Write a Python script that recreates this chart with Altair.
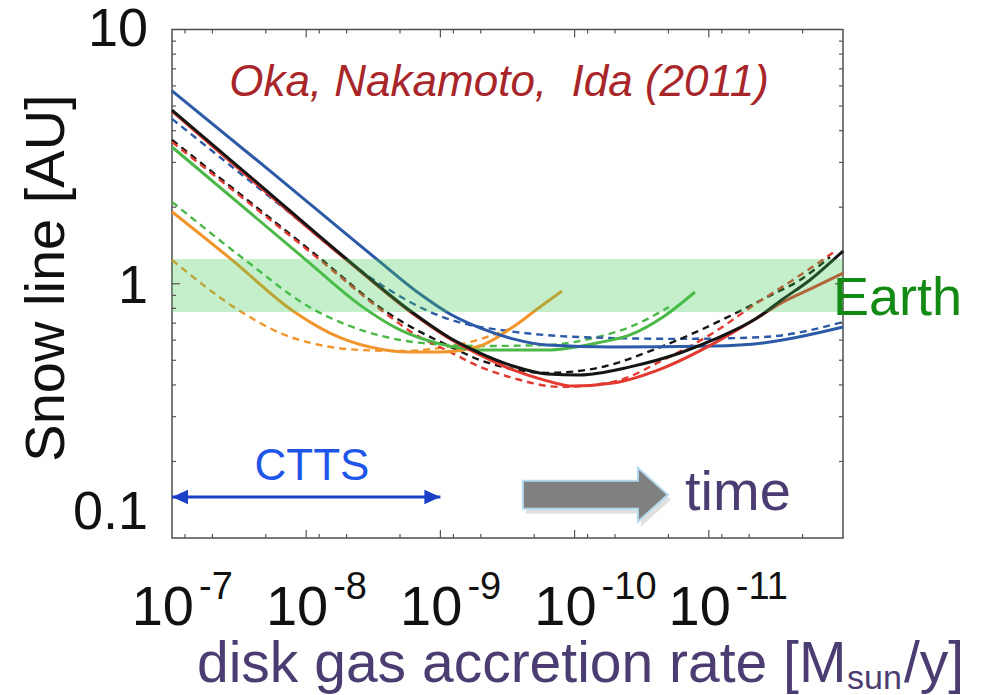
import altair as alt
import pandas as pd

# ---------------------------------------------------------------------------
# Snow-line radius [AU] versus disk gas accretion rate [Msun/yr]
# x values are log10(accretion rate); y values are snow-line radius in AU
# ---------------------------------------------------------------------------
blue_solid_logm = [-7.0, -7.73, -8.525, -8.848, -9.072, -9.295, -9.541, -9.794, -10.286, -11.031, -11.404, -12.0]
blue_solid_r = [5.74, 2.78, 1.25, 0.911, 0.76, 0.67, 0.607, 0.574, 0.564, 0.569, 0.585, 0.676]

blue_dash_logm = [-7.0, -7.805, -8.55, -8.773, -8.997, -9.221, -9.444, -10.04, -10.785, -11.404, -12.0]
blue_dash_r = [4.45, 2.04, 0.998, 0.848, 0.747, 0.688, 0.658, 0.617, 0.607, 0.617, 0.707]

black_solid_logm = [-7.0, -7.656, -8.302, -8.788, -9.072, -9.295, -9.541, -9.794, -10.04, -10.413,
                    -10.785, -11.031, -11.359, -11.553, -11.754, -12.0]
black_solid_r = [4.82, 2.445, 1.25, 0.774, 0.612, 0.534, 0.475, 0.442, 0.438, 0.471,
                 0.534, 0.601, 0.733, 0.871, 1.035, 1.345]

black_dash_logm = [-7.0, -8.103, -8.588, -9.094, -9.295, -9.541, -9.794, -10.167, -10.659, -11.158,
                   -11.434, -11.68, -11.903]
black_dash_r = [3.68, 1.26, 0.781, 0.559, 0.501, 0.462, 0.446, 0.466, 0.569, 0.747,
                0.887, 1.035, 1.274]

red_solid_logm = [-7.0, -8.302, -8.788, -9.072, -9.295, -9.541, -9.794, -9.988, -10.286, -10.659,
                  -11.031, -11.359, -11.553, -11.754, -12.0]
red_solid_r = [4.78, 1.24, 0.767, 0.607, 0.525, 0.458, 0.415, 0.396, 0.407, 0.466,
               0.58, 0.733, 0.848, 0.953, 1.10]

red_dash_logm = [-7.0, -8.103, -8.588, -8.796, -9.072, -9.295, -9.541, -9.891, -10.286, -10.659,
                 -11.031, -11.359, -11.657, -11.925]
red_dash_r = [3.61, 1.24, 0.767, 0.64, 0.539, 0.471, 0.426, 0.393, 0.411, 0.501,
              0.64, 0.84, 1.06, 1.324]

green_solid_logm = [-7.0, -7.991, -8.401, -8.699, -8.997, -9.295, -9.794, -10.167, -10.413, -10.659, -10.897]
green_solid_r = [3.45, 1.25, 0.824, 0.658, 0.58, 0.549, 0.549, 0.585, 0.629, 0.74, 0.928]

green_dash_logm = [-7.0, -7.537, -8.036, -8.327, -8.699, -9.072, -9.295, -9.794, -10.167, -10.413, -10.703]
green_dash_r = [2.10, 1.25, 0.803, 0.681, 0.601, 0.574, 0.569, 0.574, 0.617, 0.676, 0.81]

orange_solid_logm = [-7.0, -7.44, -7.902, -8.177, -8.475, -8.773, -8.997, -9.295, -9.541, -9.742, -9.906]
orange_solid_r = [1.92, 1.25, 0.781, 0.64, 0.564, 0.539, 0.539, 0.569, 0.676, 0.81, 0.936]

orange_dash_logm = [-7.0, -7.507, -7.805, -8.103, -8.401, -8.699, -8.997, -9.221, -9.37, -9.556]
orange_dash_r = [1.24, 0.781, 0.64, 0.574, 0.549, 0.544, 0.559, 0.59, 0.623, 0.676]

# Habitable ("Earth") zone band [AU]
earth_band = [0.774, 1.25]

# CTTS accretion-rate range [Msun/yr] and the radius where its arrow sits
ctts_range = [1e-7, 1e-9]
ctts_r = 0.145

# "time" arrow anchor (accretion rate, radius)
time_arrow_at = [7e-11, 0.148]

# axis ticks
x_major = [1e-8, 1e-9, 1e-10, 1e-11]
x_minor = [m * 10.0 ** (-d) for d in range(8, 13) for m in (8, 5, 2)]
y_major = [1.0]
y_minor = [m * 10.0 ** (-d) for d in (1, 0) for m in range(2, 10)]
x_tick_exponents = ["-7", "-8", "-9", "-10", "-11"]
x_tick_values = [1e-7, 1e-8, 1e-9, 1e-10, 1e-11]
y_tick_labels = ["10", "1", "0.1"]

W, H = 671, 508.5
FONT = "Liberation Sans"
INK = "#4b3c72"

xs = alt.Scale(type="log", domain=[1e-12, 1e-7], reverse=True, nice=False)
ys = alt.Scale(type="log", domain=[0.1, 10], nice=False)

curves = [
    ("orange", "dash", orange_dash_logm, orange_dash_r, "#f0962c"),
    ("green", "dash", green_dash_logm, green_dash_r, "#4cb848"),
    ("blue", "dash", blue_dash_logm, blue_dash_r, "#2c5aa6"),
    ("black", "dash", black_dash_logm, black_dash_r, "#151515"),
    ("red", "dash", red_dash_logm, red_dash_r, "#e23a30"),
    ("orange", "solid", orange_solid_logm, orange_solid_r, "#f0962c"),
    ("green", "solid", green_solid_logm, green_solid_r, "#4cb848"),
    ("blue", "solid", blue_solid_logm, blue_solid_r, "#2c5aa6"),
    ("red", "solid", red_solid_logm, red_solid_r, "#e23a30"),
    ("black", "solid", black_solid_logm, black_solid_r, "#151515"),
]

layers = []
for name, style, lm, rr, col in curves:
    df = pd.DataFrame({"mdot": [10.0 ** v for v in lm], "r": rr, "i": range(len(lm))})
    kw = dict(color=col, strokeWidth=3 if style == "solid" else 2.4, interpolate="monotone")
    if style == "dash":
        kw["strokeDash"] = [7, 5]
    layers.append(
        alt.Chart(df).mark_line(**kw).encode(
            x=alt.X("mdot:Q", scale=xs, axis=None),
            y=alt.Y("r:Q", scale=ys, axis=None),
            order="i:Q",
        )
    )

# translucent Earth band drawn over the curves
band = alt.Chart(pd.DataFrame({"lo": [earth_band[0]], "hi": [earth_band[1]]})).mark_rect(
    color="#3ec94f", opacity=0.3
).encode(x=alt.value(0), x2=alt.value(W), y=alt.Y("hi:Q", scale=ys, axis=None), y2="lo:Q")
layers.append(band)


def tick_layer(values, axis, length):
    df = pd.DataFrame({"v": values})
    out = []
    if axis == "x":
        for y0, y1 in ((H, H - length), (0, length)):
            out.append(alt.Chart(df).mark_rule(color="#555", strokeWidth=1.2).encode(
                x=alt.X("v:Q", scale=xs, axis=None), y=alt.value(y0), y2=alt.value(y1)))
    else:
        for x0, x1 in ((0, length), (W, W - length)):
            out.append(alt.Chart(df).mark_rule(color="#555", strokeWidth=1.2).encode(
                y=alt.Y("v:Q", scale=ys, axis=None), x=alt.value(x0), x2=alt.value(x1)))
    return out


layers += tick_layer(x_major, "x", 8)
layers += tick_layer(x_minor, "x", 4)
layers += tick_layer(y_major, "y", 8)
layers += tick_layer(y_minor, "y", 4)

# x tick labels: "10" with a raised exponent
xl = pd.DataFrame({"v": x_tick_values, "e": x_tick_exponents, "b": ["10"] * 5})
layers.append(alt.Chart(xl).mark_text(font=FONT, fontSize=56, align="right", baseline="alphabetic",
                                      dx=22, color="#111").encode(
    x=alt.X("v:Q", scale=xs, axis=None), y=alt.value(H + 87), text="b:N"))
layers.append(alt.Chart(xl).mark_text(font=FONT, fontSize=38, align="left", baseline="alphabetic",
                                      dx=27, color="#111").encode(
    x=alt.X("v:Q", scale=xs, axis=None), y=alt.value(H + 61), text="e:N"))

# y tick labels
for lab, val, dy in zip(y_tick_labels, [10, 1, 0.1], [0, 3, -25]):
    layers.append(alt.Chart(pd.DataFrame({"v": [val], "t": [lab]})).mark_text(
        font=FONT, fontSize=54, align="right", baseline="middle", dx=-24, dy=dy, color="#111").encode(
        y=alt.Y("v:Q", scale=ys, axis=None), x=alt.value(0), text="t:N"))

# CTTS double arrow
ca = pd.DataFrame({"x": [ctts_range[0]], "x2": [ctts_range[1]], "r": [ctts_r]})
layers.append(alt.Chart(ca).mark_rule(color="#1a40c8", strokeWidth=3).encode(
    x=alt.X("x:Q", scale=xs, axis=None), x2="x2:Q", y=alt.Y("r:Q", scale=ys, axis=None)))
heads = pd.DataFrame({"x": ctts_range, "r": [ctts_r, ctts_r], "s": ["L", "R"]})
layers.append(alt.Chart(heads[heads.s == "L"]).mark_point(
    shape="M0,0L2,-0.9L2,0.9Z", size=256, filled=True, color="#1a40c8", opacity=1).encode(
    x=alt.X("x:Q", scale=xs, axis=None), y=alt.Y("r:Q", scale=ys, axis=None)))
layers.append(alt.Chart(heads[heads.s == "R"]).mark_point(
    shape="M0,0L-2,-0.9L-2,0.9Z", size=256, filled=True, color="#1a40c8", opacity=1).encode(
    x=alt.X("x:Q", scale=xs, axis=None), y=alt.Y("r:Q", scale=ys, axis=None)))

# "time" block arrow with a soft shadow
arrow_path = "M-1,-0.193L0.586,-0.193L0.586,-0.372L1,0L0.586,0.372L0.586,0.193L-1,0.193Z"
ta = pd.DataFrame({"x": [time_arrow_at[0]], "r": [time_arrow_at[1]]})
layers.append(alt.Chart(ta).mark_point(shape=arrow_path, size=21025, filled=True, color="#000",
                                       opacity=0.12, strokeWidth=0, yOffset=5, xOffset=3).encode(
    x=alt.X("x:Q", scale=xs, axis=None), y=alt.Y("r:Q", scale=ys, axis=None)))
layers.append(alt.Chart(ta).mark_point(shape=arrow_path, size=21025, filled=True, fill="#808080",
                                       stroke="#b3dcef", strokeWidth=2, opacity=1).encode(
    x=alt.X("x:Q", scale=xs, axis=None), y=alt.Y("r:Q", scale=ys, axis=None)))


def label(text, x, y, **kw):
    return alt.Chart(pd.DataFrame({"t": [text]})).mark_text(**kw).encode(
        x=alt.value(x), y=alt.value(y), text="t:N")


layers.append(label("Oka, Nakamoto,\u00a0 Ida (2011)", 327, 66.5, font=FONT, fontSize=44, fontStyle="italic",
                    color="#a8262a", align="center", baseline="alphabetic"))
layers.append(label("Earth", 661, 285.5, font=FONT, fontSize=54, color="#138a13",
                    align="left", baseline="alphabetic"))
layers.append(label("CTTS", 140, 450.5, font=FONT, fontSize=44, color="#1f56ea",
                    align="center", baseline="alphabetic"))
layers.append(label("time", 513, 480.5, font=FONT, fontSize=56, color=INK,
                    align="left", baseline="alphabetic"))
layers.append(label("Snow line [AU]", -125, 248.5, font=FONT, fontSize=56, color="#111", angle=270,
                    align="center", baseline="middle"))

# x-axis title with subscript
layers.append(label("disk gas accretion rate [M", 25, 652.5, font=FONT, fontSize=57, color=INK,
                    align="left", baseline="alphabetic"))
layers.append(label("sun", 675, 659, font=FONT, fontSize=34, color=INK,
                    align="left", baseline="alphabetic"))
layers.append(label("/y]", 732, 652.5, font=FONT, fontSize=57, color=INK,
                    align="left", baseline="alphabetic"))

chart = alt.layer(*layers).properties(
    width=W, height=H,
    padding={"left": 172, "top": 29.5, "right": 141, "bottom": 157},
    autosize=alt.AutoSizeParams(type="none"),
    background="white",
).configure_view(stroke="#4d4d4d", strokeWidth=1.5)

chart.save("out.html", embed_options={"renderer": "svg", "actions": False})
